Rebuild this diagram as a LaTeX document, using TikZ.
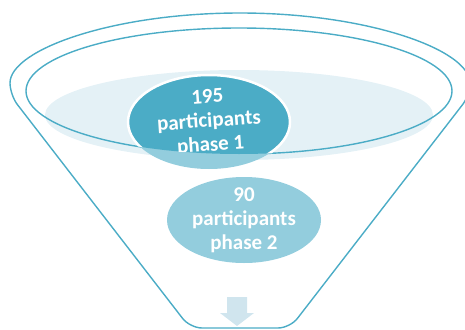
\documentclass[tikz,border=0pt]{standalone}
\usepackage{fontspec}
\setmainfont{Carlito}
\usetikzlibrary{shapes.geometric}
\definecolor{tealline}{HTML}{4BACC6}
\definecolor{tealdark}{HTML}{4BACC6}
\definecolor{teallight}{HTML}{93CDDD}
\definecolor{water}{HTML}{E4F1F6}
\definecolor{arrowfill}{HTML}{D0E5EE}
\tikzstyle{funnel} = [draw=tealline, line width=1.4pt, rounded corners=12pt]
\tikzstyle{phaseone} = [ellipse, minimum width=162pt, minimum height=94pt, inner sep=0pt]
\tikzstyle{phasetwo} = [ellipse, minimum width=154pt, minimum height=86pt, inner sep=0pt, fill=teallight]
\tikzstyle{label} = [text=white, font=\bfseries\fontsize{21}{24}\selectfont, align=center]

\begin{document}
\begin{tikzpicture}[x=1pt, y=-1pt]
\useasboundingbox (0,0) rectangle (465,329);

% water surface and rim
\fill[water] (239,115) ellipse[x radius=194, y radius=45];
\draw[tealline, line width=1.4pt] (239,91) ellipse[x radius=213, y radius=63];
\draw[funnel] (10,95) arc[start angle=180, end angle=360, x radius=230, y radius=82]
  -- (290,328) -- (190,328) -- cycle;

% phase 1
\node (p1) [phaseone, fill=teallight] at (209,122) {};
\begin{scope}
\clip (239,91) ellipse[x radius=213, y radius=63];
\node (p1top) [phaseone, fill=tealdark, draw=white, line width=2.5pt] at (209,122) {};
\node (p1text) [label, rotate=4] at (p1top.center) {195\\participants\\phase 1};
\end{scope}

% phase 2
\node (p2) [phasetwo] at (244,220) {};
\node (p2text) [label] at (p2.center) {90\\participants\\phase 2};

% arrow out
\fill[arrowfill] (227,297) -- (247,297) -- (247,313) -- (254,313) -- (237,326)
  -- (220,313) -- (227,313) -- cycle;

\end{tikzpicture}
\end{document}
